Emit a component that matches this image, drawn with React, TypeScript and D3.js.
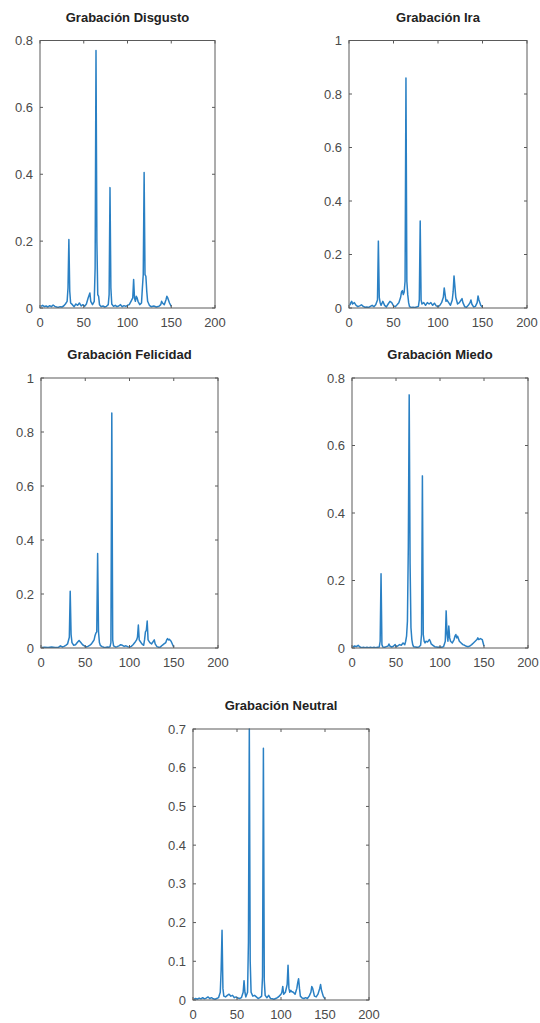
import React from 'react';
import * as d3 from 'd3';

type Pt = [number, number];

// panel titles
const titles = [
  'Grabación Disgusto',
  'Grabación Ira',
  'Grabación Felicidad',
  'Grabación Miedo',
  'Grabación Neutral',
];

// y axis upper limits and tick steps
const yMaxes = [0.8, 1, 1, 0.8, 0.7];
const yTicksList = [
  [0, 0.2, 0.4, 0.6, 0.8],
  [0, 0.2, 0.4, 0.6, 0.8, 1],
  [0, 0.2, 0.4, 0.6, 0.8, 1],
  [0, 0.2, 0.4, 0.6, 0.8],
  [0, 0.1, 0.2, 0.3, 0.4, 0.5, 0.6, 0.7],
];
const xTicks = [0, 50, 100, 150, 200];

const disgusto: Pt[] = [
  [1, 0.005], [3, 0.008], [5, 0.004], [7, 0.006], [9, 0.003], [11, 0.007], [13, 0.004], [15, 0.009],
  [17, 0.005], [19, 0.003], [21, 0.002], [23, 0.004], [25, 0.003], [27, 0.006], [29, 0.012], [31, 0.02],
  [32, 0.06], [33, 0.205], [34, 0.05], [35, 0.015], [37, 0.01], [39, 0.004], [41, 0.012], [43, 0.008],
  [45, 0.015], [47, 0.006], [49, 0.01], [51, 0.005], [53, 0.012], [55, 0.03], [57, 0.045], [58, 0.02],
  [60, 0.01], [62, 0.02], [63, 0.12], [64, 0.77], [65, 0.2], [66, 0.04], [67, 0.035], [68, 0.01],
  [70, 0.004], [72, 0.006], [74, 0.003], [76, 0.005], [78, 0.01], [79, 0.04], [80, 0.36], [81, 0.06],
  [82, 0.012], [84, 0.005], [86, 0.008], [88, 0.004], [90, 0.006], [92, 0.01], [94, 0.004], [96, 0.007],
  [98, 0.005], [100, 0.008], [102, 0.01], [104, 0.02], [106, 0.03], [107, 0.085], [108, 0.03], [109, 0.02],
  [110, 0.035], [111, 0.03], [112, 0.02], [114, 0.01], [116, 0.015], [117, 0.06], [118, 0.1], [119, 0.405],
  [120, 0.1], [121, 0.095], [122, 0.05], [123, 0.02], [125, 0.008], [127, 0.004], [130, 0.006], [133, 0.003],
  [136, 0.005], [138, 0.01], [139, 0.02], [140, 0.015], [142, 0.01], [144, 0.025], [145, 0.035], [146, 0.03],
  [148, 0.015], [150, 0.005],
];

const ira: Pt[] = [
  [1, 0.01], [2, 0.02], [3, 0.025], [4, 0.015], [6, 0.02], [8, 0.01], [10, 0.005], [12, 0.008],
  [14, 0.012], [16, 0.006], [18, 0.003], [20, 0.004], [22, 0.002], [24, 0.006], [26, 0.01], [28, 0.005],
  [30, 0.012], [32, 0.03], [33, 0.25], [34, 0.04], [35, 0.02], [36, 0.01], [38, 0.025], [40, 0.01],
  [42, 0.004], [44, 0.015], [46, 0.025], [48, 0.02], [50, 0.008], [52, 0.005], [54, 0.012], [56, 0.02],
  [58, 0.04], [59, 0.06], [60, 0.065], [61, 0.05], [62, 0.06], [63, 0.1], [64, 0.86], [65, 0.1],
  [66, 0.05], [67, 0.02], [68, 0.005], [70, 0.002], [72, 0.003], [74, 0.002], [76, 0.004], [78, 0.006],
  [79, 0.03], [80, 0.325], [81, 0.03], [82, 0.015], [84, 0.02], [86, 0.01], [88, 0.02], [90, 0.015],
  [92, 0.02], [94, 0.01], [96, 0.018], [98, 0.008], [100, 0.005], [102, 0.01], [104, 0.02], [106, 0.04],
  [107, 0.075], [108, 0.05], [109, 0.025], [110, 0.03], [112, 0.02], [114, 0.01], [116, 0.03], [117, 0.06],
  [118, 0.12], [119, 0.08], [120, 0.04], [122, 0.015], [124, 0.02], [126, 0.03], [127, 0.035], [128, 0.02],
  [130, 0.005], [132, 0.003], [134, 0.01], [136, 0.02], [137, 0.03], [138, 0.015], [140, 0.004], [142, 0.006],
  [144, 0.02], [145, 0.045], [146, 0.03], [148, 0.01], [150, 0.003],
];

const felicidad: Pt[] = [
  [1, 0.002], [4, 0.003], [8, 0.002], [12, 0.004], [16, 0.002], [20, 0.003], [22, 0.008], [24, 0.004],
  [26, 0.006], [28, 0.01], [30, 0.015], [32, 0.04], [33, 0.21], [34, 0.05], [35, 0.02], [37, 0.01],
  [39, 0.012], [41, 0.02], [43, 0.028], [45, 0.02], [47, 0.012], [49, 0.008], [51, 0.004], [53, 0.006],
  [55, 0.01], [57, 0.015], [59, 0.025], [60, 0.03], [61, 0.045], [62, 0.055], [63, 0.06], [64, 0.35],
  [65, 0.06], [66, 0.02], [67, 0.01], [69, 0.005], [71, 0.003], [73, 0.002], [75, 0.004], [77, 0.003],
  [78, 0.005], [79, 0.02], [80, 0.87], [81, 0.03], [82, 0.008], [84, 0.004], [86, 0.005], [88, 0.008],
  [90, 0.012], [92, 0.01], [94, 0.006], [96, 0.008], [98, 0.005], [100, 0.004], [102, 0.006], [104, 0.012],
  [106, 0.02], [108, 0.03], [109, 0.04], [110, 0.085], [111, 0.03], [112, 0.025], [114, 0.015], [116, 0.01],
  [117, 0.03], [118, 0.06], [119, 0.065], [120, 0.1], [121, 0.03], [123, 0.02], [125, 0.015], [127, 0.025],
  [128, 0.03], [129, 0.015], [131, 0.005], [133, 0.003], [135, 0.004], [137, 0.01], [139, 0.015], [141, 0.02],
  [142, 0.03], [143, 0.035], [144, 0.03], [145, 0.032], [147, 0.025], [149, 0.01], [150, 0.003],
];

const miedo: Pt[] = [
  [1, 0.003], [3, 0.006], [5, 0.004], [7, 0.008], [9, 0.003], [11, 0.001], [13, 0.002], [15, 0.001],
  [17, 0.002], [19, 0.001], [21, 0.002], [23, 0.001], [25, 0.002], [27, 0.001], [29, 0.002], [31, 0.003],
  [32, 0.02], [33, 0.22], [34, 0.01], [35, 0.003], [37, 0.002], [39, 0.004], [41, 0.006], [42, 0.012],
  [43, 0.006], [45, 0.003], [47, 0.005], [49, 0.01], [50, 0.004], [52, 0.006], [54, 0.01], [56, 0.008],
  [58, 0.015], [60, 0.01], [61, 0.02], [62, 0.035], [63, 0.08], [64, 0.3], [65, 0.75], [66, 0.25],
  [67, 0.06], [68, 0.025], [69, 0.01], [70, 0.004], [72, 0.003], [74, 0.002], [76, 0.003], [78, 0.008],
  [79, 0.04], [80, 0.51], [81, 0.04], [82, 0.02], [83, 0.015], [84, 0.02], [86, 0.018], [88, 0.025],
  [89, 0.02], [90, 0.012], [92, 0.008], [94, 0.004], [96, 0.003], [98, 0.002], [100, 0.003], [102, 0.002],
  [104, 0.004], [106, 0.02], [107, 0.11], [108, 0.04], [109, 0.02], [110, 0.065], [111, 0.03], [112, 0.02],
  [114, 0.015], [116, 0.025], [117, 0.035], [118, 0.04], [119, 0.03], [120, 0.035], [122, 0.02], [124, 0.015],
  [126, 0.01], [128, 0.008], [130, 0.005], [132, 0.004], [134, 0.006], [136, 0.01], [138, 0.015], [140, 0.02],
  [142, 0.025], [143, 0.03], [144, 0.025], [146, 0.028], [148, 0.025], [150, 0.005],
];

const neutral: Pt[] = [
  [1, 0.002], [3, 0.004], [5, 0.002], [7, 0.005], [9, 0.003], [11, 0.006], [13, 0.003], [15, 0.005],
  [17, 0.008], [19, 0.004], [21, 0.006], [23, 0.003], [25, 0.002], [27, 0.004], [29, 0.006], [31, 0.02],
  [32, 0.08], [33, 0.18], [34, 0.03], [35, 0.01], [37, 0.008], [39, 0.012], [41, 0.015], [43, 0.01],
  [45, 0.012], [47, 0.006], [49, 0.008], [51, 0.005], [53, 0.004], [55, 0.006], [57, 0.02], [58, 0.05],
  [59, 0.02], [60, 0.008], [62, 0.02], [63, 0.15], [64, 0.7], [65, 0.1], [66, 0.02], [68, 0.01],
  [70, 0.012], [72, 0.008], [74, 0.004], [76, 0.006], [78, 0.01], [79, 0.06], [80, 0.65], [81, 0.05],
  [82, 0.012], [84, 0.006], [86, 0.012], [88, 0.004], [90, 0.003], [92, 0.002], [94, 0.004], [96, 0.006],
  [98, 0.01], [100, 0.015], [101, 0.02], [102, 0.035], [103, 0.015], [105, 0.02], [107, 0.04], [108, 0.09],
  [109, 0.03], [110, 0.02], [111, 0.025], [112, 0.022], [114, 0.02], [116, 0.015], [118, 0.03], [119, 0.045],
  [120, 0.055], [121, 0.03], [122, 0.01], [124, 0.005], [126, 0.004], [128, 0.006], [130, 0.004], [132, 0.01],
  [134, 0.02], [135, 0.035], [136, 0.03], [138, 0.01], [140, 0.008], [142, 0.015], [144, 0.03], [145, 0.04],
  [146, 0.025], [148, 0.01], [150, 0.003],
];

const series = [disgusto, ira, felicidad, miedo, neutral];

// axes boxes in page pixels: left, top, right, bottom
const boxes = [
  [40, 40.5, 215, 308],
  [349, 40.5, 527, 308],
  [41, 378, 218, 648],
  [352, 378, 528, 648],
  [193, 729, 369, 1000],
];

const W = 540;
const H = 1023;
const lineColor = '#2a80c4';
const axisColor = '#5a5a5a';
const labelColor = '#4a4a4a';
const font = '"Liberation Sans", Arial, sans-serif';

function Panel({ idx }: { idx: number }) {
  const [l, t, r, b] = boxes[idx];
  const x = d3.scaleLinear().domain([0, 200]).range([l, r]);
  const y = d3.scaleLinear().domain([0, yMaxes[idx]]).range([b, t]);
  const line = d3
    .line<Pt>()
    .x((d) => x(d[0]))
    .y((d) => y(d[1]));
  const tl = 3;
  const fmt = (v: number) => (v === 0 ? '0' : d3.format('~g')(v));

  return (
    <g>
      <text
        x={(l + r) / 2}
        y={t - 19}
        textAnchor="middle"
        fontFamily={font}
        fontWeight="bold"
        fontSize={13}
        fill="#222"
      >
        {titles[idx]}
      </text>
      <clipPath id={`clip${idx}`}>
        <rect x={l} y={t - 1} width={r - l} height={b - t + 1} />
      </clipPath>
      <path
        d={line(series[idx]) || ''}
        fill="none"
        stroke={lineColor}
        strokeWidth={1.5}
        strokeLinejoin="round"
        clipPath={`url(#clip${idx})`}
      />
      <rect x={l} y={t} width={r - l} height={b - t} fill="none" stroke={axisColor} strokeWidth={1} />
      {xTicks.map((v) => (
        <g key={`x${v}`}>
          <line x1={x(v)} x2={x(v)} y1={b} y2={b - tl} stroke={axisColor} />
          <line x1={x(v)} x2={x(v)} y1={t} y2={t + tl} stroke={axisColor} />
          <text
            x={x(v)}
            y={b + 19}
            textAnchor="middle"
            fontFamily={font}
            fontSize={13}
            fill={labelColor}
          >
            {v}
          </text>
        </g>
      ))}
      {yTicksList[idx].map((v) => (
        <g key={`y${v}`}>
          <line x1={l} x2={l + tl} y1={y(v)} y2={y(v)} stroke={axisColor} />
          <line x1={r} x2={r - tl} y1={y(v)} y2={y(v)} stroke={axisColor} />
          <text
            x={l - 7}
            y={y(v)}
            dy="0.35em"
            textAnchor="end"
            fontFamily={font}
            fontSize={13}
            fill={labelColor}
          >
            {fmt(v)}
          </text>
        </g>
      ))}
    </g>
  );
}

export default function App() {
  return (
    <svg
      width={W}
      height={H}
      viewBox={`0 0 ${W} ${H}`}
      style={{ position: 'absolute', left: 0, top: 0, background: '#fff' }}
    >
      <rect x={0} y={0} width={W} height={H} fill="#fff" />
      {titles.map((_, i) => (
        <Panel key={i} idx={i} />
      ))}
    </svg>
  );
}
